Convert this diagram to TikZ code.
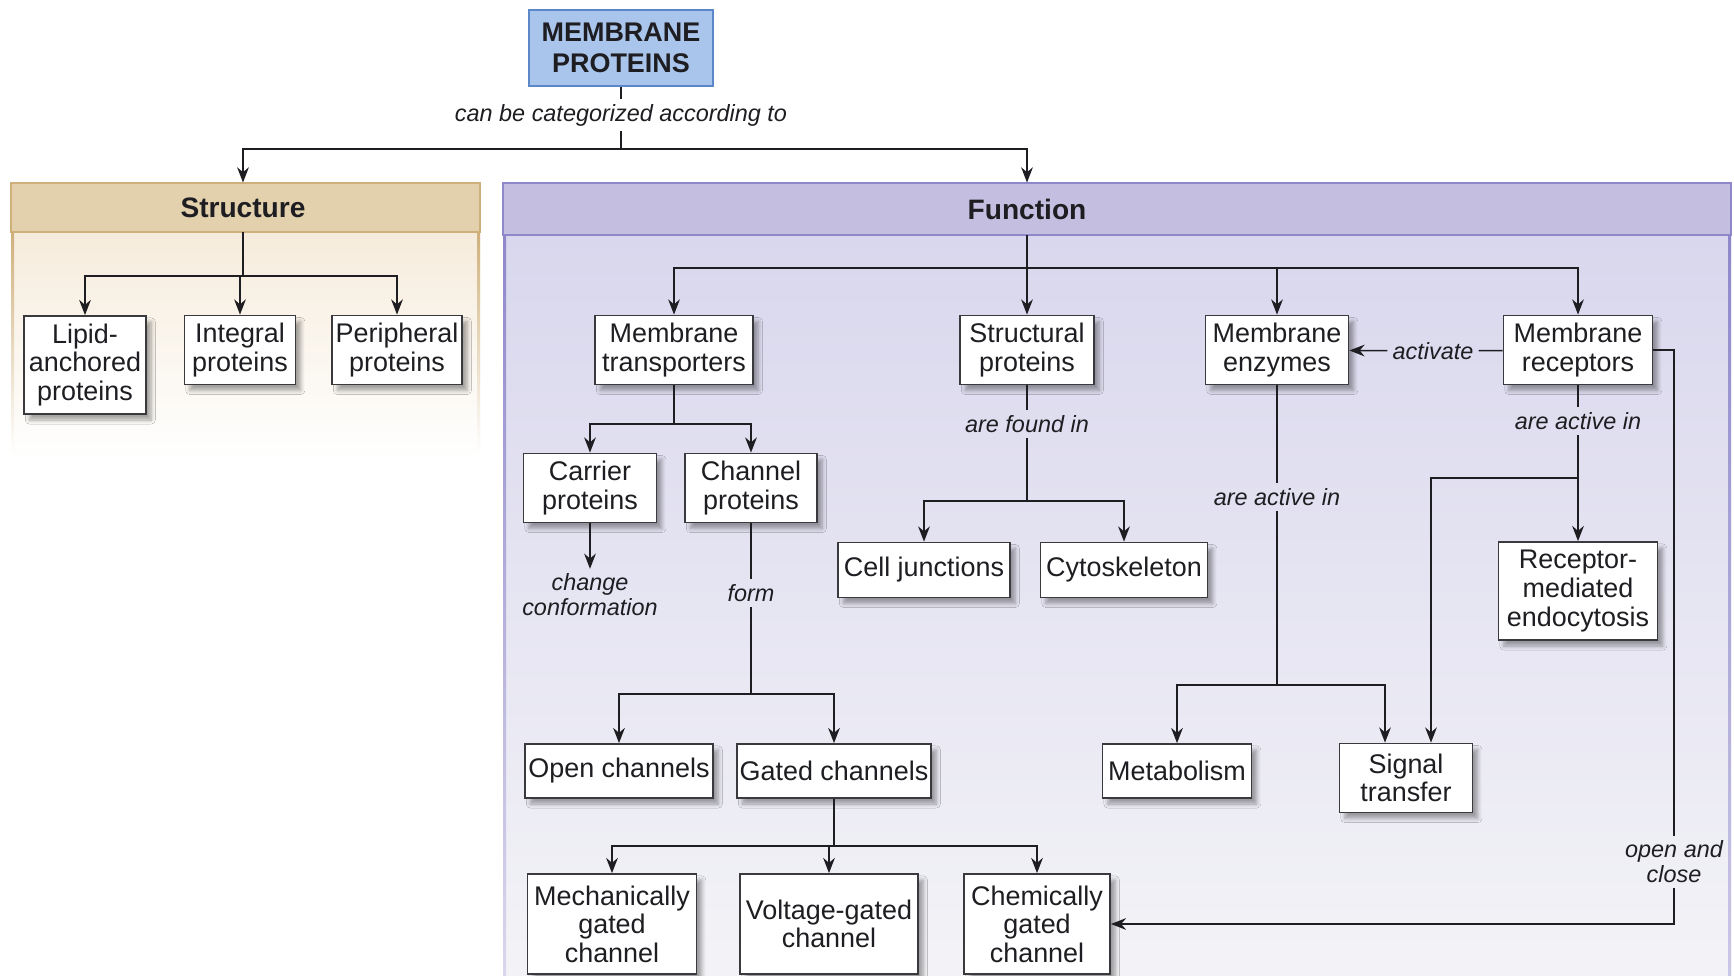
\documentclass[tikz,border=0pt]{standalone}
\usepackage{fontspec}
\newfontfamily\mpfont{Liberation Sans}
\usepackage{tikz}
\usetikzlibrary{arrows.meta,positioning,calc,shadows.blur}
\definecolor{topFill}{RGB}{170,197,235}
\definecolor{topLine}{RGB}{92,135,200}
\definecolor{strHeadC}{RGB}{227,208,172}
\definecolor{strLineC}{RGB}{207,176,124}
\definecolor{strBodyC}{RGB}{246,236,220}
\definecolor{funHeadC}{RGB}{196,190,224}
\definecolor{funLineC}{RGB}{142,136,202}
\definecolor{funBodyC}{RGB}{217,215,237}
\definecolor{funBodyB}{RGB}{243,243,247}
\definecolor{inkC}{RGB}{30,30,34}
\definecolor{boxC}{RGB}{58,58,62}
\def\pxu{0.15mm}

\begin{document}
\begin{tikzpicture}[x=0.15mm, y=-0.15mm,
  cbox/.style={draw=boxC, line width=0.75pt, fill=white, align=center, text=inkC,
              font=\mpfont\fontsize{11.5}{12.2}\selectfont, inner sep=1pt},
  box/.style={cbox, blur shadow={shadow xshift=0.8mm, shadow yshift=-0.9mm,
                                 shadow blur steps=6, shadow opacity=35}},
  sz/.style 2 args={minimum width=#1*\pxu, minimum height=#2*\pxu},
  lab/.style={font=\mpfont\itshape\fontsize{10}{10.6}\selectfont, text=inkC,
              inner sep=2pt, align=center},
  hdr/.style={font=\mpfont\bfseries\fontsize{12}{14}\selectfont, text=inkC,
              minimum width=0pt, inner sep=0pt},
  ln/.style={draw=inkC, line width=0.65pt},
  arr/.style={ln, -{Stealth[length=6.5pt, width=5pt]}},
]

% ============ canvas ============
\useasboundingbox (0,0) rectangle (1734,976);
\fill[white] (0,0) rectangle (1734,976);

% ============ panel backgrounds ============
\fill[top color=strBodyC, bottom color=white] (11,232) rectangle (480,460);
\fill[top color=strLineC, bottom color=white] (11,232) rectangle (14,455);
\fill[top color=strLineC, bottom color=white] (477,232) rectangle (480,455);
\draw[strLineC, line width=1.2pt, fill=strHeadC] (11,183) rectangle (480,232);

\fill[top color=funBodyC, bottom color=funBodyB] (503,235) rectangle (1731,976);
\fill[top color=funLineC, bottom color=funBodyC] (503,235) rectangle (506,976);
\fill[top color=funLineC, bottom color=funBodyC!80!funLineC] (1728,235) rectangle (1731,976);
\draw[funLineC, line width=1.2pt, fill=funHeadC] (503,183) rectangle (1731,235);

% ============ title ============
\node[cbox, sz={184}{76}, fill=topFill, draw=topLine, line width=1pt,
      font=\mpfont\bfseries\fontsize{11.5}{13.5}\selectfont] (top) at (621,48) {MEMBRANE\\PROTEINS};
\node[lab] (catlab) at (621,115) {can be categorized according to};
\coordinate (catbar) at (621,149);

\node[hdr, minimum height=49*\pxu] (strHead) at (243,207.5) {Structure};
\node[hdr, minimum height=52*\pxu] (funHead) at (1027,209) {Function};

\draw[ln] (top) -- (catlab);
\draw[ln] (catlab) -- (catbar);
\draw[arr] (catbar) -| (strHead);
\draw[arr] (catbar) -| (funHead);

% ===================== Panel 1: Structure =====================
\node[box, sz={122}{98}] (lipid) at (85,365) {Lipid-\\anchored\\proteins};
\node[box, sz={111}{69}] (integral) at (240,350) {Integral\\proteins};
\node[box, sz={130}{69}] (periph) at (397,350) {Peripheral\\proteins};
\coordinate (strbar) at (243,276);
\draw[ln] (strHead) -- (strbar);
\draw[arr] (strbar) -| (lipid);
\draw[arr] (strbar) -| (integral);
\draw[arr] (strbar) -| (periph);

% ===================== Panel 2: Function =====================
\node[box, sz={158}{69}] (transp) at (674,350) {Membrane\\transporters};
\node[box, sz={134}{69}] (structural) at (1027,350) {Structural\\proteins};
\node[box, sz={143}{69}] (enzymes) at (1277,350) {Membrane\\enzymes};
\node[box, sz={149}{69}] (receptors) at (1578,350) {Membrane\\receptors};
\coordinate (funbar) at (1027,268);
\draw[ln] (funHead) -- (funbar);
\foreach \n in {transp,structural,enzymes,receptors}{\draw[arr] (funbar) -| (\n);}

% --- transporters ---
\node[box, sz={133}{69}] (carrier) at (590,488) {Carrier\\proteins};
\node[box, sz={132}{69}] (channel) at (751,488) {Channel\\proteins};
\coordinate (trbar) at (674,424);
\draw[ln] (transp) -- (trbar);
\draw[arr] (trbar) -| (carrier);
\draw[arr] (trbar) -| (channel);
\node[lab] (chglab) at (590,595) {change\\conformation};
\draw[arr] (carrier) -- (chglab);

\node[lab] (formlab) at (751,593) {form};
\node[box, sz={188}{54}] (open) at (619,771) {Open channels};
\node[box, sz={194}{54}] (gated) at (834,771) {Gated channels};
\coordinate (chbar) at (751,694);
\draw[ln] (channel) -- (formlab);
\draw[ln] (formlab) -- (chbar);
\draw[arr] (chbar) -| (open);
\draw[arr] (chbar) -| (gated);

\node[box, sz={169}{100}] (mech) at (612,924) {Mechanically\\gated\\channel};
\node[box, sz={178}{100}] (volt) at (829,924) {Voltage-gated\\channel};
\node[box, sz={146}{100}] (chem) at (1037,924) {Chemically\\gated\\channel};
\coordinate (gbar) at (834,846);
\draw[ln] (gated) -- (gbar);
\draw[arr] (gbar) -| (mech);
\draw[arr] (gbar) -| (volt);
\draw[arr] (gbar) -| (chem);

% --- structural ---
\node[lab] (foundlab) at (1027,424) {are found in};
\node[box, sz={172}{55}] (celljunc) at (924,570) {Cell junctions};
\node[box, sz={167}{55}] (cytosk) at (1124,570) {Cytoskeleton};
\coordinate (stbar) at (1027,501);
\draw[ln] (structural) -- (foundlab);
\draw[ln] (foundlab) -- (stbar);
\draw[arr] (stbar) -| (celljunc);
\draw[arr] (stbar) -| (cytosk);

% --- enzymes ---
\node[lab] (enzlab) at (1277,497) {are active in};
\node[box, sz={149}{54}] (metab) at (1177,771) {Metabolism};
\node[box, sz={133}{69}] (signal) at (1406,778) {Signal\\transfer};
\coordinate (enzbar) at (1277,685);
\draw[ln] (enzymes) -- (enzlab);
\draw[ln] (enzlab) -- (enzbar);
\draw[arr] (enzbar) -| (metab);
\draw[arr] (enzbar) -| ([xshift=-21*\pxu]signal.north);

% --- receptors ---
\node[lab] (actlab) at (1433,351) {activate};
\draw[ln] (receptors) -- (actlab);
\draw[arr] (actlab) -- (enzymes);

\node[lab] (reclab) at (1578,421) {are active in};
\node[box, sz={159}{98}] (rme) at (1578,591) {Receptor-\\mediated\\endocytosis};
\coordinate (recbar) at (1578,478);
\draw[ln] (receptors) -- (reclab);
\draw[arr] (reclab) -- (rme);
\draw[arr] (recbar) -| ([xshift=25*\pxu]signal.north);

\node[lab] (oclab) at (1674,862) {open and\\close};
\draw[ln] (receptors.east) -| (oclab);
\draw[arr] (oclab) |- (chem);

\end{tikzpicture}
\end{document}
